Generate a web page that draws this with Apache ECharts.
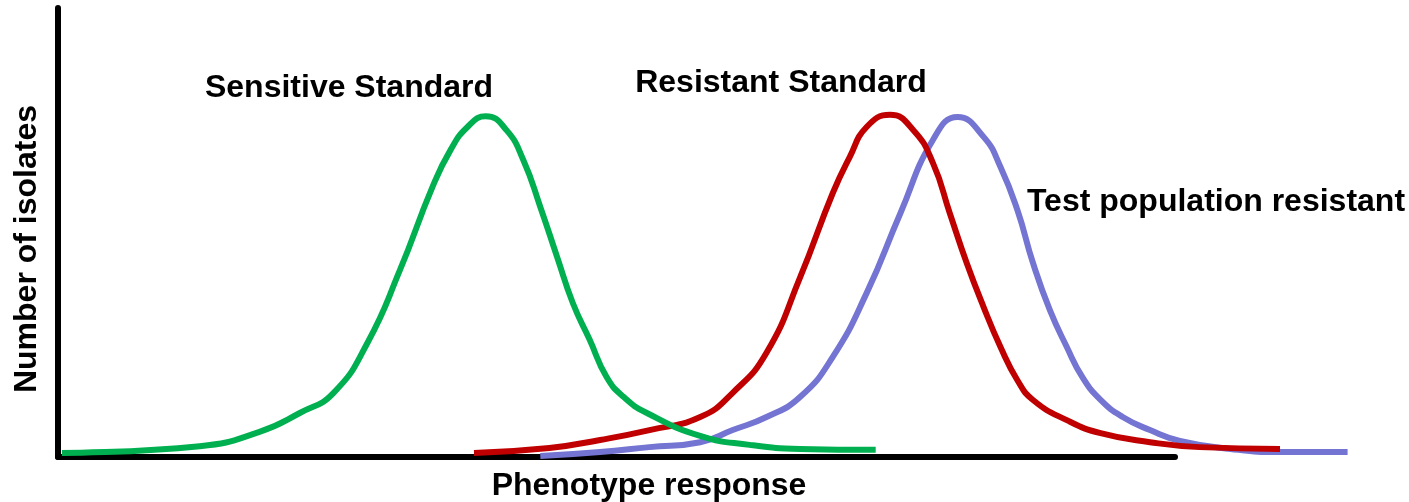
<!DOCTYPE html>
<html>
<head>
<meta charset="utf-8">
<script src="https://cdn.jsdelivr.net/npm/echarts@6/dist/echarts.min.js"></script>
<style>
  html, body { margin: 0; padding: 0; background: #fff; }
  #chart { width: 1409px; height: 502px; }
</style>
</head>
<body>
<div id="chart"></div>
<script>
// Phenotype response (0-100) vs number of isolates (0-100)
const sensitiveStandard = [
  [0.3, 0.9], [10.9, 2.4], [15.5, 5.6], [18.6, 9.8], [21.2, 14.3], [23.8, 25.4],
  [26.3, 41.6], [28.8, 60.1], [30.2, 68.4], [31.5, 73.5], [32.9, 75.9], [34.5, 72.8],
  [35.8, 66.1], [37.1, 55.7], [38.4, 44.5], [39.6, 34.3], [40.9, 26.1], [42.2, 17.8],
  [43.5, 13.4], [45.3, 9.8], [49.4, 4.7], [53.2, 2.7], [57.1, 1.8], [62.9, 1.6]
];
const resistantStandard = [
  [32.0, 0.9], [37.8, 2.0], [41.7, 3.8], [45.5, 6.0], [49.4, 8.9], [51.9, 14.3],
  [54.5, 23.2], [57.1, 40.1], [59.6, 58.8], [60.9, 66.8], [62.2, 73.5], [64.0, 76.2],
  [65.8, 72.8], [67.3, 65.5], [68.6, 54.3], [69.9, 43.2], [71.2, 33.4], [72.5, 24.5],
  [73.8, 17.1], [75.0, 12.7], [77.6, 8.2], [80.2, 5.3], [84.0, 3.3], [87.8, 2.2],
  [94.0, 1.8]
];
const testPopulation = [
  [37.1, 0.2], [41.7, 1.1], [45.5, 2.2], [49.4, 3.3], [51.9, 6.0], [54.5, 8.9],
  [57.1, 13.4], [59.6, 22.3], [62.2, 36.5], [64.8, 54.3], [67.3, 70.6], [69.2, 75.7],
  [71.2, 71.3], [72.5, 64.6], [73.8, 55.0], [75.0, 43.2], [76.3, 32.7], [77.6, 24.5],
  [78.8, 17.8], [80.2, 12.7], [81.9, 8.9], [84.0, 6.0], [86.3, 3.6], [90.2, 1.8],
  [94.0, 1.1], [99.2, 1.1]
];
const curveNames = ['Sensitive Standard', 'Resistant Standard', 'Test population resistant'];
const axisNames = ['Phenotype response', 'Number of isolates'];

const FONT = '"Liberation Sans", Arial, sans-serif';
const chart = echarts.init(document.getElementById('chart'));

function curve(name, data, color) {
  return {
    name: name,
    type: 'line',
    xAxisIndex: 1,
    yAxisIndex: 1,
    data: data,
    smooth: 0.5,
    showSymbol: false,
    silent: true,
    lineStyle: { color: color, width: 6 }
  };
}

function label(text, x, y, rotation) {
  return {
    type: 'text', x: x, y: y, rotation: rotation || 0,
    style: {
      text: text, font: 'bold 32px ' + FONT, fill: '#000',
      textAlign: 'center', textVerticalAlign: 'middle'
    }
  };
}

chart.setOption({
  animation: false,
  backgroundColor: '#fff',
  grid: [
    // visible axes
    { left: 58, top: 8, width: 1117, height: 449 },
    // plotting area (curves run past the axis end)
    { left: 58, top: 8, width: 1300, height: 449 }
  ],
  xAxis: [
    {
      gridIndex: 0, type: 'value', min: 0, max: 100,
      axisLine: { lineStyle: { color: '#000', width: 6 } },
      axisTick: { show: false }, axisLabel: { show: false }, splitLine: { show: false }
    },
    { gridIndex: 1, type: 'value', min: 0, max: 100, show: false }
  ],
  yAxis: [
    {
      gridIndex: 0, type: 'value', min: 0, max: 100,
      axisLine: { show: true, lineStyle: { color: '#000', width: 6 } },
      axisTick: { show: false }, axisLabel: { show: false }, splitLine: { show: false }
    },
    { gridIndex: 1, type: 'value', min: 0, max: 100, show: false }
  ],
  graphic: [
    label(axisNames[0], 649, 486),
    label(axisNames[1], 27, 249, Math.PI / 2),
    label(curveNames[0], 349, 88),
    label(curveNames[1], 781, 83),
    label(curveNames[2], 1216, 202)
  ],
  series: [
    curve(curveNames[2], testPopulation, '#7474d2'),
    curve(curveNames[1], resistantStandard, '#c00000'),
    curve(curveNames[0], sensitiveStandard, '#00b050')
  ]
});
</script>
</body>
</html>
